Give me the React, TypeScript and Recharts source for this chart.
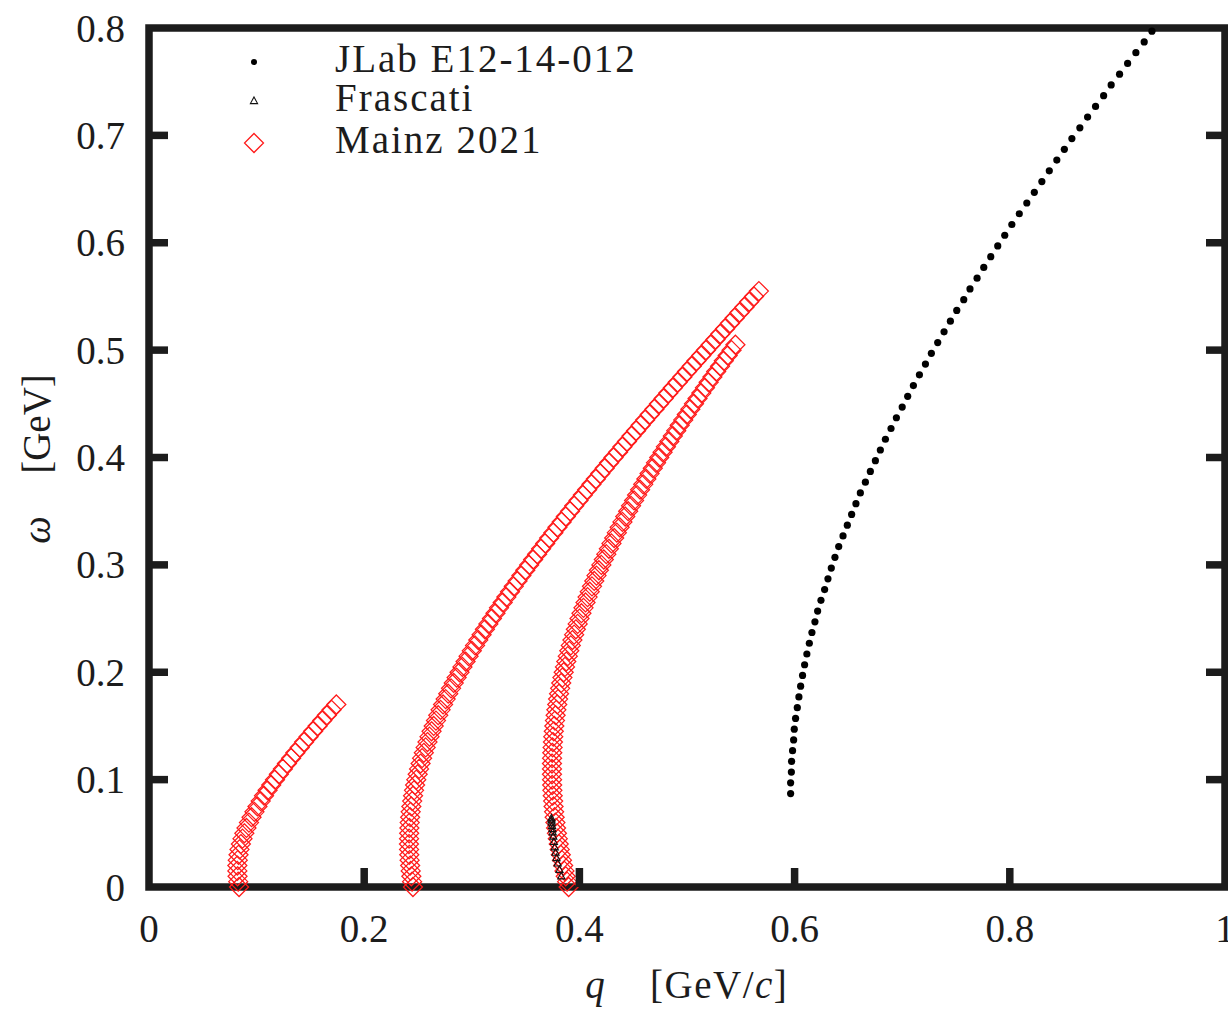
import React from 'react';
import { ScatterChart, Scatter, XAxis, YAxis, ReferenceArea } from 'recharts';

const xTicks = [0, 0.2, 0.4, 0.6, 0.8, 1];
const yTicks = [0, 0.1, 0.2, 0.3, 0.4, 0.5, 0.6, 0.7, 0.8];

// JLab E12-14-012 (q, omega)
const jlabQ = [
  0.5963, 0.5963, 0.597, 0.5972, 0.5981, 0.5991, 0.5997, 0.6009, 0.6025, 0.604,
  0.6056, 0.6074, 0.6093, 0.6114, 0.6137, 0.6161, 0.6189, 0.6214, 0.6245, 0.6279,
  0.631, 0.6341, 0.6375, 0.641, 0.645, 0.649, 0.653, 0.657, 0.6611, 0.6658,
  0.6704, 0.6751, 0.6797, 0.6844, 0.6896, 0.6946, 0.7, 0.7051, 0.7104, 0.716,
  0.7216, 0.7271, 0.733, 0.7389, 0.7448, 0.7507, 0.7572, 0.763, 0.7696, 0.7758,
  0.7823, 0.7888, 0.7953, 0.8019, 0.8088, 0.8158, 0.8228, 0.8298, 0.8367, 0.8437,
  0.8507, 0.8577, 0.8651, 0.8723, 0.8797, 0.8872, 0.8942, 0.902, 0.9095, 0.9172,
  0.9249, 0.9321,
];
const jlabW = [
  0.087, 0.097, 0.107, 0.117, 0.127, 0.137, 0.147, 0.157, 0.167, 0.177,
  0.187, 0.197, 0.207, 0.217, 0.227, 0.237, 0.247, 0.257, 0.267, 0.277,
  0.287, 0.297, 0.307, 0.317, 0.327, 0.337, 0.347, 0.357, 0.367, 0.377,
  0.387, 0.397, 0.407, 0.417, 0.427, 0.437, 0.447, 0.457, 0.467, 0.477,
  0.487, 0.497, 0.507, 0.517, 0.527, 0.537, 0.547, 0.557, 0.567, 0.577,
  0.587, 0.597, 0.607, 0.617, 0.627, 0.637, 0.647, 0.657, 0.667, 0.677,
  0.687, 0.697, 0.707, 0.717, 0.727, 0.737, 0.747, 0.757, 0.767, 0.777,
  0.787, 0.797,
];

// Frascati
const frascatiQ = [0.374, 0.3741, 0.3743, 0.3746, 0.3749, 0.3752, 0.3757, 0.3763, 0.3771, 0.3778, 0.3787, 0.3798, 0.3815, 0.3832];
const frascatiW = [0.064, 0.062, 0.06, 0.057, 0.054, 0.051, 0.047, 0.042, 0.037, 0.032, 0.027, 0.022, 0.016, 0.01];

// Mainz 2021: shared energy-transfer grid, three kinematic settings
const mainzOmega = [
  0, 0.005, 0.01, 0.015, 0.02, 0.025, 0.03, 0.035, 0.04, 0.045,
  0.05, 0.055, 0.06, 0.065, 0.07, 0.075, 0.08, 0.085, 0.09, 0.095,
  0.1, 0.105, 0.11, 0.115, 0.12, 0.125, 0.13, 0.135, 0.14, 0.145,
  0.15, 0.155, 0.16, 0.165, 0.17, 0.175, 0.18, 0.185, 0.19, 0.195,
  0.2, 0.205, 0.21, 0.215, 0.22, 0.225, 0.23, 0.235, 0.24, 0.245,
  0.25, 0.255, 0.26, 0.265, 0.27, 0.275, 0.28, 0.285, 0.29, 0.295,
  0.3, 0.305, 0.31, 0.315, 0.32, 0.325, 0.33, 0.335, 0.34, 0.345,
  0.35, 0.355, 0.36, 0.365, 0.37, 0.375, 0.38, 0.385, 0.39, 0.395,
  0.4, 0.405, 0.41, 0.415, 0.42, 0.425, 0.43, 0.435, 0.44, 0.445,
  0.45, 0.455, 0.46, 0.465, 0.47, 0.475, 0.48, 0.485, 0.49, 0.495,
  0.5, 0.505, 0.51, 0.515, 0.52, 0.525, 0.53, 0.535, 0.54, 0.545,
  0.55, 0.555,
];
const mainzLowQ = [
  0.0837, 0.0829, 0.0823, 0.0821, 0.0821, 0.0825, 0.0832, 0.0841, 0.0854, 0.0869,
  0.0886, 0.0906, 0.0929, 0.0953, 0.098, 0.1008, 0.1038, 0.1069, 0.1102, 0.1136,
  0.1171, 0.1207, 0.1244, 0.1282, 0.1321, 0.136, 0.1401, 0.1441, 0.1483, 0.1525,
  0.1567, 0.161, 0.1653, 0.1697, 0.1741,
];
const mainzMidQ = [
  0.2453, 0.2445, 0.2438, 0.2432, 0.2427, 0.2422, 0.2419, 0.2417, 0.2416, 0.2417,
  0.2418, 0.242, 0.2423, 0.2427, 0.2432, 0.2438, 0.2446, 0.2454, 0.2463, 0.2473,
  0.2484, 0.2497, 0.251, 0.2524, 0.2538, 0.2554, 0.2571, 0.2588, 0.2607, 0.2626,
  0.2646, 0.2667, 0.2688, 0.271, 0.2733, 0.2757, 0.2781, 0.2807, 0.2832, 0.2859,
  0.2886, 0.2913, 0.2942, 0.297, 0.3, 0.303, 0.306, 0.3091, 0.3122, 0.3154,
  0.3187, 0.322, 0.3253, 0.3287, 0.3321, 0.3355, 0.339, 0.3425, 0.3461, 0.3497,
  0.3533, 0.357, 0.3607, 0.3644, 0.3682, 0.3719, 0.3758, 0.3796, 0.3835, 0.3874,
  0.3913, 0.3952, 0.3992, 0.4032, 0.4072, 0.4112, 0.4153, 0.4194, 0.4235, 0.4276,
  0.4317, 0.4359, 0.44, 0.4442, 0.4484, 0.4527, 0.4569, 0.4611, 0.4654, 0.4697,
  0.474, 0.4783, 0.4826, 0.4869, 0.4913, 0.4957, 0.5, 0.5044, 0.5088, 0.5132,
  0.5176, 0.5221, 0.5265, 0.5309, 0.5354, 0.5399, 0.5443, 0.5488, 0.5533, 0.5578,
  0.5623, 0.5668,
];
const mainzHighQ = [
  0.39, 0.3886, 0.3873, 0.3861, 0.3849, 0.3838, 0.3827, 0.3817, 0.3808, 0.3799,
  0.3791, 0.3783, 0.3777, 0.377, 0.3765, 0.376, 0.3756, 0.3752, 0.3749, 0.3747,
  0.3746, 0.3745, 0.3745, 0.3745, 0.3746, 0.3748, 0.3751, 0.3754, 0.3757, 0.3762,
  0.3767, 0.3773, 0.3779, 0.3786, 0.3794, 0.3802, 0.3811, 0.3821, 0.3831, 0.3842,
  0.3854, 0.3866, 0.3878, 0.3892, 0.3906, 0.392, 0.3935, 0.3951, 0.3967, 0.3984,
  0.4001, 0.4019, 0.4038, 0.4057, 0.4076, 0.4096, 0.4117, 0.4138, 0.4159, 0.4181,
  0.4204, 0.4227, 0.425, 0.4274, 0.4298, 0.4323, 0.4348, 0.4374, 0.44, 0.4426,
  0.4453, 0.448, 0.4508, 0.4536, 0.4564, 0.4593, 0.4622, 0.4652, 0.4682, 0.4712,
  0.4742, 0.4773, 0.4804, 0.4836, 0.4868, 0.49, 0.4932, 0.4965, 0.4998, 0.5031,
  0.5065, 0.5098, 0.5133, 0.5167, 0.5201, 0.5236, 0.5271, 0.5307, 0.5342, 0.5378,
  0.5414, 0.545,
];

const toPoints = (qs: number[], ws: number[]) => qs.map((q, i) => ({ q, w: ws[i] }));

const jlab = toPoints(jlabQ, jlabW);
const frascati = toPoints(frascatiQ, frascatiW);
const mainzLow = toPoints(mainzLowQ, mainzOmega);
const mainzMid = toPoints(mainzMidQ, mainzOmega);
const mainzHigh = toPoints(mainzHighQ, mainzOmega);

const W = 1228;
const H = 1010;
const PLOT_W = 1076;
const INK = '#1c1c1c';
const FONT = "'Liberation Serif', 'Times New Roman', serif";
const RED = '#ff1a1a';

const diamondPath = (cx: number, cy: number, h: number) =>
  `M${cx},${cy - h}L${cx + h},${cy}L${cx},${cy + h}L${cx - h},${cy}Z`;

const Diamond = (p: any) => (
  <path d={diamondPath(p.cx, p.cy, 9.5)} fill="none" stroke={RED} strokeWidth={1.25} />
);
const Triangle = (p: any) => (
  <path d={`M${p.cx},${p.cy - 4}L${p.cx + 3.6},${p.cy + 2.6}L${p.cx - 3.6},${p.cy + 2.6}Z`} fill="none" stroke="#111" strokeWidth={1.1} />
);
const Dot = (p: any) => <circle cx={p.cx} cy={p.cy} r={3.6} fill="#000" />;

const fmt = (v: number) => (v === 0 || v === 1 ? String(v) : v.toFixed(1));

const XTick = ({ x, y, payload }: any) => {
  const v = payload.value;
  return (
    <g>
      {v > 0 && v < 1 && <line x1={x} x2={x} y1={y} y2={y - 19} stroke={INK} strokeWidth={7.5} />}
      <text x={x} y={y + 41} textAnchor="middle" dominantBaseline="central" fontFamily={FONT} fontSize={39} fill={INK}>
        {fmt(v)}
      </text>
    </g>
  );
};

const YTick = ({ x, y, payload }: any) => {
  const v = payload.value;
  const inner = v > 0 && v < 0.8;
  return (
    <g>
      {inner && <line x1={x} x2={x + 19} y1={y} y2={y} stroke={INK} strokeWidth={7.5} />}
      {inner && <line x1={x + PLOT_W} x2={x + PLOT_W - 19} y1={y} y2={y} stroke={INK} strokeWidth={7.5} />}
      <text x={x - 24} y={y} textAnchor="end" dominantBaseline="central" fontFamily={FONT} fontSize={39} fill={INK}>
        {fmt(v)}
      </text>
    </g>
  );
};

const legendRows = [
  { label: 'JLab E12-14-012', marker: 'dot', y: 62 },
  { label: 'Frascati', marker: 'tri', y: 101 },
  { label: 'Mainz 2021', marker: 'dia', y: 143 },
];

const Overlay = () => (
  <svg width={W} height={H} style={{ position: 'absolute', left: 0, top: 0, pointerEvents: 'none' }}>
    {legendRows.map((r) => (
      <g key={r.label}>
        {r.marker === 'dot' && <circle cx={254} cy={r.y} r={3} fill="#000" />}
        {r.marker === 'tri' && <Triangle cx={254} cy={r.y} />}
        {r.marker === 'dia' && <Diamond cx={254} cy={r.y} />}
        <text x={335} y={r.y + 10} fontFamily={FONT} fontSize={39} letterSpacing={2} fill={INK}>
          {r.label}
        </text>
      </g>
    ))}
    <text x={595} y={998} textAnchor="middle" fontFamily={FONT} fontSize={39} fontStyle="italic" fill={INK}>q</text>
    <text x={650} y={998} fontFamily={FONT} fontSize={39} letterSpacing={1.5} fill={INK}>
      [GeV/<tspan fontStyle="italic">c</tspan>]
    </text>
    <text transform="translate(50,530) rotate(-90)" textAnchor="middle" fontFamily={FONT} fontSize={39} fontStyle="italic" fill={INK}>ω</text>
    <text transform="translate(50,424) rotate(-90)" textAnchor="middle" fontFamily={FONT} fontSize={39} fill={INK}>[GeV]</text>
  </svg>
);

export default function App() {
  return (
    <div style={{ position: 'absolute', left: 0, top: 0, width: W, height: H, background: '#fff' }}>
      <ScatterChart width={W} height={H} margin={{ top: 28, right: 3, bottom: 0, left: 0 }}>
        <XAxis
          type="number"
          dataKey="q"
          domain={[0, 1]}
          ticks={xTicks}
          interval={0}
          height={123}
          axisLine={false}
          tickLine={false}
          tickSize={0}
          tickMargin={0}
          tick={(p: any) => <XTick {...p} />}
        />
        <YAxis
          type="number"
          dataKey="w"
          domain={[0, 0.8]}
          ticks={yTicks}
          interval={0}
          width={149}
          axisLine={false}
          tickLine={false}
          tickSize={0}
          tickMargin={0}
          tick={(p: any) => <YTick {...p} />}
        />
        <Scatter name="Mainz 2021" data={mainzLow} shape={Diamond} isAnimationActive={false} />
        <Scatter name="Mainz 2021 b" data={mainzMid} shape={Diamond} isAnimationActive={false} />
        <Scatter name="Mainz 2021 c" data={mainzHigh} shape={Diamond} isAnimationActive={false} />
        <Scatter name="Frascati" data={frascati} shape={Triangle} isAnimationActive={false} />
        <Scatter name="JLab E12-14-012" data={jlab} shape={Dot} isAnimationActive={false} />
        <ReferenceArea x1={0} x2={1} y1={0} y2={0.8} fill="none" stroke={INK} strokeWidth={7.5} />
      </ScatterChart>
      <Overlay />
    </div>
  );
}
